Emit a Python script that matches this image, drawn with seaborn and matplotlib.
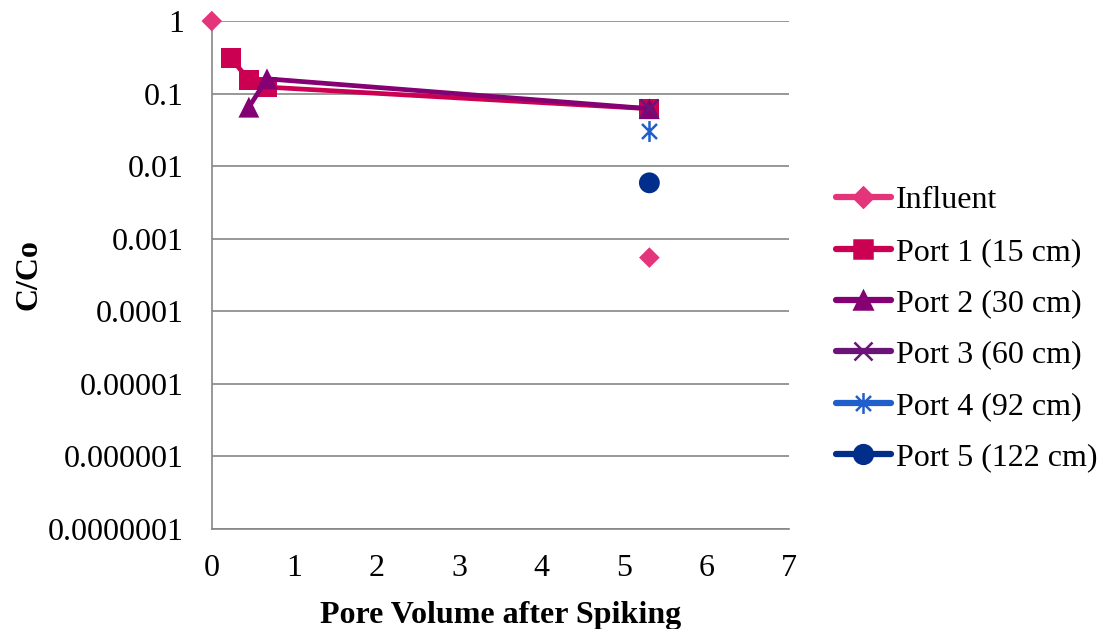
import numpy as np
import pandas as pd
import matplotlib
matplotlib.use("Agg")
import matplotlib.pyplot as plt
from matplotlib.lines import Line2D
from matplotlib.path import Path
import seaborn as sns

# ---- data ----
influent_x = [0.0, 5.31]
influent_y = [1.0, 0.00055]
port1_x = [0.23, 0.45, 0.67, 5.31]
port1_y = [0.31, 0.155, 0.123, 0.062]
port2_x = [0.45, 0.67, 5.31]
port2_y = [0.065, 0.16, 0.062]
port3_x = [5.31]
port3_y = [0.063]
port4_x = [5.31]
port4_y = [0.031]
port5_x = [5.31]
port5_y = [0.0059]

labels = ["Influent", "Port 1 (15 cm)", "Port 2 (30 cm)", "Port 3 (60 cm)",
          "Port 4 (92 cm)", "Port 5 (122 cm)"]
y_ticks = [1, 0.1, 0.01, 0.001, 0.0001, 0.00001, 0.000001, 0.0000001]
y_tick_labels = ["1", "0.1", "0.01", "0.001", "0.0001", "0.00001", "0.000001", "0.0000001"]
x_ticks = [0, 1, 2, 3, 4, 5, 6, 7]

# ---- style ----
sns.set_style("white")
plt.rcParams["font.family"] = ["Liberation Serif", "DejaVu Serif"]
plt.rcParams["text.color"] = "black"
plt.rcParams["axes.labelcolor"] = "black"

colors = ["#E5357A", "#CC0052", "#850072", "#6A1478", "#1E5FCC", "#002E8A"]

star = Path([(0, -1), (0, 1), (-0.72, -0.72), (0.72, 0.72), (-0.72, 0.72), (0.72, -0.72)],
            [Path.MOVETO, Path.LINETO, Path.MOVETO, Path.LINETO, Path.MOVETO, Path.LINETO])

series = [
    (influent_x, influent_y, "D", 10.5, False),
    (port1_x, port1_y, "s", 14.5, True),
    (port2_x, port2_y, "^", 15, True),
    (port3_x, port3_y, "x", 13, True),
    (port4_x, port4_y, star, 15, True),
    (port5_x, port5_y, "o", 15, True),
]

fig = plt.figure(figsize=(11.03, 6.29), dpi=100)
ax = fig.add_axes([0.192, 0.159, 0.523, 0.8075])

handles = []
for i, ((xs, ys, mk, ms, connect), lab, col) in enumerate(zip(series, labels, colors)):
    df = pd.DataFrame({"x": xs, "y": ys})
    if connect and len(xs) > 1:
        sns.lineplot(data=df, x="x", y="y", ax=ax, color=col, linewidth=3.4,
                     sort=False, estimator=None, zorder=3 + i)
    lined = (mk == "x") or (mk is star)
    sns.scatterplot(data=df, x="x", y="y", ax=ax, color=col, marker=mk,
                    s=ms ** 2, linewidth=1.8 if lined else 0,
                    edgecolor=col if lined else "none",
                    zorder=3.5 + i, legend=False)
    ax.collections[-1].set_clip_on(False)
    if lined:
        leg_ms = ms
    elif mk == "D":
        leg_ms = ms * 0.95
    else:
        leg_ms = ms * 0.9
    handles.append(Line2D([0], [0], color=col, linewidth=4.5, marker=mk,
                          markersize=leg_ms, markeredgewidth=1.8,
                          markerfacecolor=col, markeredgecolor=col, label=lab))

ax.set_yscale("log")
ax.set_xlim(0, 7)
ax.set_ylim(1e-7, 1)
ax.set_xticks(x_ticks)
ax.set_xticklabels([str(v) for v in x_ticks])
ax.set_yticks(y_ticks)
ax.set_yticklabels(y_tick_labels)
ax.yaxis.set_minor_locator(matplotlib.ticker.NullLocator())
ax.grid(axis="y", color="#868686", linewidth=1.2)
ax.set_axisbelow(True)
for s in ["top", "right"]:
    ax.spines[s].set_visible(False)
for s in ["left", "bottom"]:
    ax.spines[s].set_color("#868686")
    ax.spines[s].set_linewidth(1.2)
ax.tick_params(axis="both", direction="out", length=6, width=1.2, color="#868686",
               labelsize=23, labelcolor="black")
ax.tick_params(axis="x", pad=12)
ax.tick_params(axis="y", pad=14)
ax.set_xlabel("Pore Volume after Spiking", fontsize=23, fontweight="bold",
              labelpad=13, color="black")
ax.set_ylabel("C/Co", fontsize=23, fontweight="bold", labelpad=3, color="black")

leg = ax.legend(handles=handles, loc="upper left",
                bbox_to_anchor=(836 / 1103, 1 - 186 / 629), bbox_transform=fig.transFigure,
                frameon=False, fontsize=23, handlelength=1.72, handletextpad=0.15,
                labelspacing=0.69, borderaxespad=0.0, borderpad=0.0,
                labelcolor="black")

fig.savefig("out.png", dpi=100)
